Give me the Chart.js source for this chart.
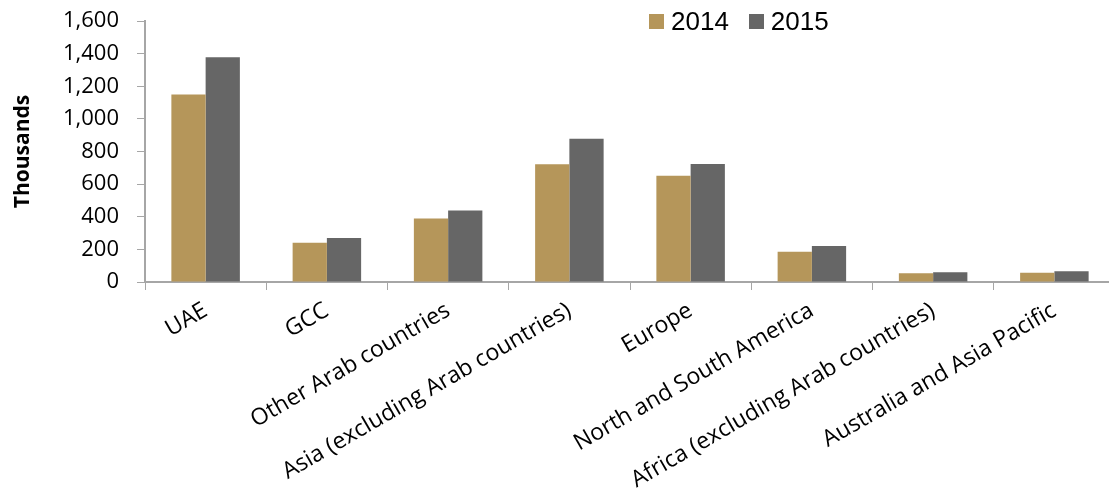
<!DOCTYPE html>
<html>
<head>
<meta charset="utf-8">
<script src="https://cdn.jsdelivr.net/npm/chart.js@4"></script>
<style>
  html, body { margin: 0; padding: 0; background: #fff; overflow: hidden; }
  #wrap { position: relative; width: 1125px; height: 501px; }
  #legend { position: absolute; top: 6px; left: 649px; font-family: "Liberation Sans", Arial, sans-serif; font-size: 26px; color: #000; display: flex; }
  .item { display: flex; align-items: center; margin-right: 20px; }
  .swatch { width: 15px; height: 15px; margin-right: 7px; }
</style>
</head>
<body>
<div id="wrap">
  <canvas id="chart" width="1125" height="501"></canvas>
  <div id="legend"></div>
</div>
<script>
const categories = ['UAE', 'GCC', 'Other Arab countries', 'Asia (excluding Arab countries)', 'Europe',
  'North and South America', 'Africa (excluding Arab countries)', 'Australia and Asia Pacific'];
const years = ['2014', '2015'];
const values2014 = [1150, 240, 390, 722, 652, 185, 53, 57];
const values2015 = [1378, 270, 438, 878, 723, 221, 60, 66];
const yTicks = [0, 200, 400, 600, 800, 1000, 1200, 1400, 1600];
const colors = ['#b5965a', '#666666'];
const axisGray = '#a6a6a6';

const chart = new Chart(document.getElementById('chart').getContext('2d'), {
  type: 'bar',
  data: {
    labels: categories,
    datasets: [
      { label: years[0], data: values2014, backgroundColor: colors[0], borderWidth: 0 },
      { label: years[1], data: values2015, backgroundColor: colors[1], borderWidth: 0 }
    ]
  },
  options: {
    responsive: false,
    animation: false,
    categoryPercentage: 0.565,
    barPercentage: 1.0,
    layout: { padding: { top: 0, right: 10, left: 0, bottom: 0 } },
    plugins: { legend: { display: false }, tooltip: { enabled: false } },
    scales: {
      x: {
        grid: { drawOnChartArea: false, drawTicks: true, tickLength: 8, color: axisGray, offset: true },
        border: { color: axisGray, width: 2 },
        ticks: {
          minRotation: 30, maxRotation: 30, autoSkip: false, padding: 7,
          color: '#000', font: { family: '"Open Sans", sans-serif', size: 23 }
        },
        afterFit: function(scale) { scale.height = 219; }
      },
      y: {
        min: 0, max: 1600,
        afterBuildTicks: function(scale) { scale.ticks = yTicks.map(v => ({ value: v })); },
        grid: { drawOnChartArea: false, drawTicks: true, tickLength: 8, color: axisGray },
        border: { color: axisGray, width: 2 },
        ticks: {
          padding: 18, color: '#000',
          font: { family: '"Open Sans", sans-serif', size: 22 },
          callback: function(v) { return v.toLocaleString('en-US'); }
        },
        title: {
          display: true, text: 'Thousands', color: '#000',
          font: { family: '"Open Sans", sans-serif', size: 21, weight: 'bold' },
          padding: { top: 10, bottom: 0 }
        },
        afterFit: function(scale) { scale.width = 145; }
      }
    }
  },
  plugins: [{
    // pin the plot area top to where 1,600 sits in the reference
    id: 'pinTop',
    afterLayout: function(c) {
      const area = c.chartArea;
      const y = c.scales.y;
      const top = 21;
      y.top = top; area.top = top;
      y.height = y.bottom - top; area.height = area.bottom - top;
      y.configure();
    }
  }]
});

// legend built from the datasets
const legend = document.getElementById('legend');
chart.data.datasets.forEach(function(ds) {
  const item = document.createElement('div');
  item.className = 'item';
  item.innerHTML = '<span class="swatch" style="background:' + ds.backgroundColor + '"></span><span>' + ds.label + '</span>';
  legend.appendChild(item);
});
</script>
</body>
</html>
